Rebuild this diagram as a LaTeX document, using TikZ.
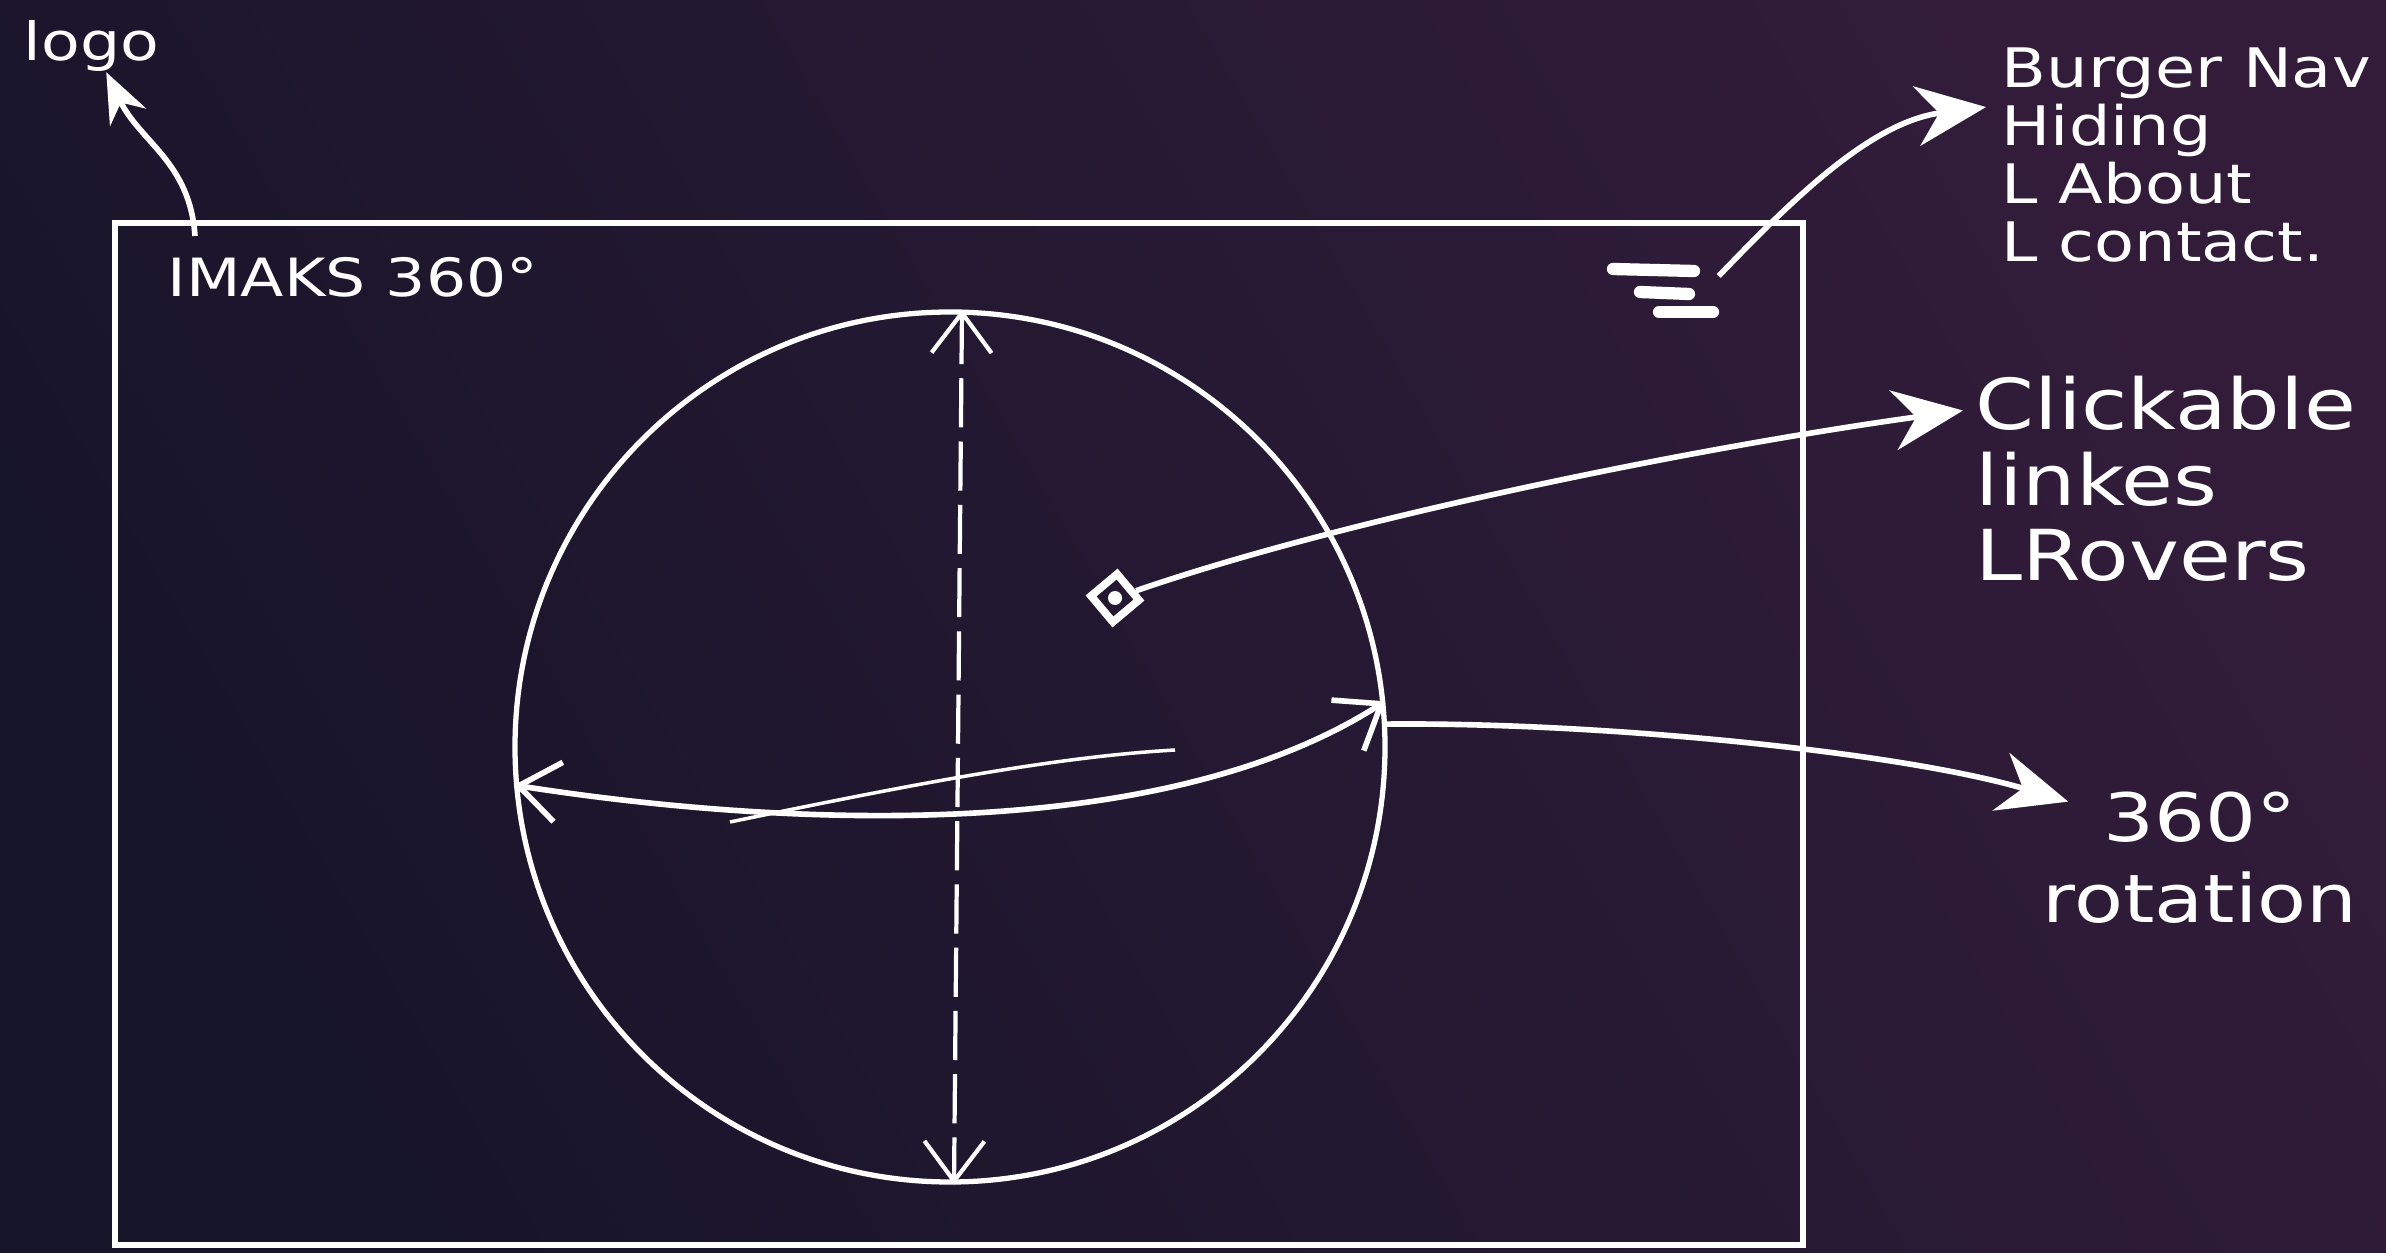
\documentclass[tikz,border=0pt]{standalone}
\usepackage{fontspec}
\setmainfont{DejaVu Sans}
\newfontfamily\mao[FakeStretch=1.2]{DejaVu Sans}
\usetikzlibrary{arrows.meta}
\definecolor{fundoA}{HTML}{17152A}
\definecolor{fundoB}{HTML}{321C3A}

\begin{document}
\begin{tikzpicture}[
    giz/.style={draw=white, line width=1.6pt},
    tela/.style={draw=white, line width=1.8pt, minimum width=16.88cm, minimum height=10.22cm, inner sep=0pt},
    globo/.style={circle, draw=white, line width=1.5pt, minimum size=8.7cm, inner sep=0pt},
    hotspot/.style={draw=white, line width=2.2pt, minimum size=0.34cm, rotate=40, inner sep=0pt},
    rotulo/.style={text=white, align=left, anchor=west, inner sep=0pt},
    seta/.style={-{Stealth[length=7mm,width=6mm]}, draw=white, line width=1.6pt},
    setinha/.style={-{Stealth[length=5mm,width=4mm]}, draw=white, line width=1.6pt},
    eixo/.style={{Straight Barb[length=4mm,width=6mm]}-{Straight Barb[length=4mm,width=6mm]}, draw=white, line width=1.6pt},
    barra/.style={draw=white, line width=3.5pt, line cap=round}
]
    % Fundo
    \useasboundingbox (0,0) rectangle (23.86,12.52);
    \shade[bottom color=fundoA, top color=fundoB, shading angle=-60] (0,0) rectangle (23.86,12.52);

    % Tela e globo
    \node[tela] (tela) at (9.59,5.18) {};
    \node[globo] (globo) at (9.50,5.05) {};
    \node[rotulo, font=\mao\fontsize{15}{15}\selectfont] (titulo) at (1.67,9.75) {IMAKS 360°};

    % Menu hamburguer
    \node[minimum width=1.1cm, minimum height=0.55cm] (menu) at (16.63,9.61) {};
    \draw[barra] (16.13,9.83) -- (16.94,9.81);
    \draw[barra] (16.40,9.60) -- (16.89,9.58);
    \draw[barra] (16.59,9.40) -- (17.13,9.40);

    % Ponto clicavel
    \node[hotspot] (ponto) at (11.15,6.54) {};
    \fill[white] (ponto) circle (0.07);

    % Rotulos externos
    \node[rotulo, font=\mao\fontsize{15}{15}\selectfont] (logo) at (0.23,12.06) {logo};
    \node[rotulo, font=\mao\fontsize{15.5}{16.5}\selectfont] (nav) at (20.01,10.97) {Burger Nav\\Hiding\\L About\\L contact.};
    \node[rotulo, font=\mao\fontsize{20}{21.5}\selectfont] (links) at (19.75,7.73) {Clickable\\linkes\\LRovers};
    \node[text=white, align=center, inner sep=0pt, font=\mao\fontsize{19}{23}\selectfont] (rot) at (22.0,3.94) {360°\\rotation};

    % Eixos de rotacao
    \draw[eixo, dash pattern=on 14pt off 4pt, line width=1.2pt] ([xshift=1.2mm]globo.north) -- ([xshift=0.4mm]globo.south);
    \draw[eixo] (globo.185) .. controls (7.5,4.3) and (11.5,4.0) .. (globo.6);
    \draw[giz, line width=1pt] (7.30,4.30) .. controls (9.0,4.65) and (10.5,4.95) .. (11.75,5.02);

    % Setas
    \coordinate (pe) at (1.95,10.16);
    \draw[setinha] (pe) .. controls (1.9,10.9) and (1.4,11.1) .. ([xshift=1.5mm]logo.south);
    \draw[seta] ([yshift=1.5mm]menu.east) .. controls (17.9,10.5) and (18.7,11.3) .. ([shift={(-1.5mm,-6mm)}]nav.north west);
    \draw[seta] (ponto) .. controls (13.5,7.35) and (17.0,8.05) .. ([shift={(-1.2mm,-3.5mm)}]links.north west);
    \draw[seta] (globo.3) .. controls (16.0,5.3) and (19.0,5.0) .. ([shift={(2.6mm,-1mm)}]rot.north west);

\end{tikzpicture}
\end{document}
